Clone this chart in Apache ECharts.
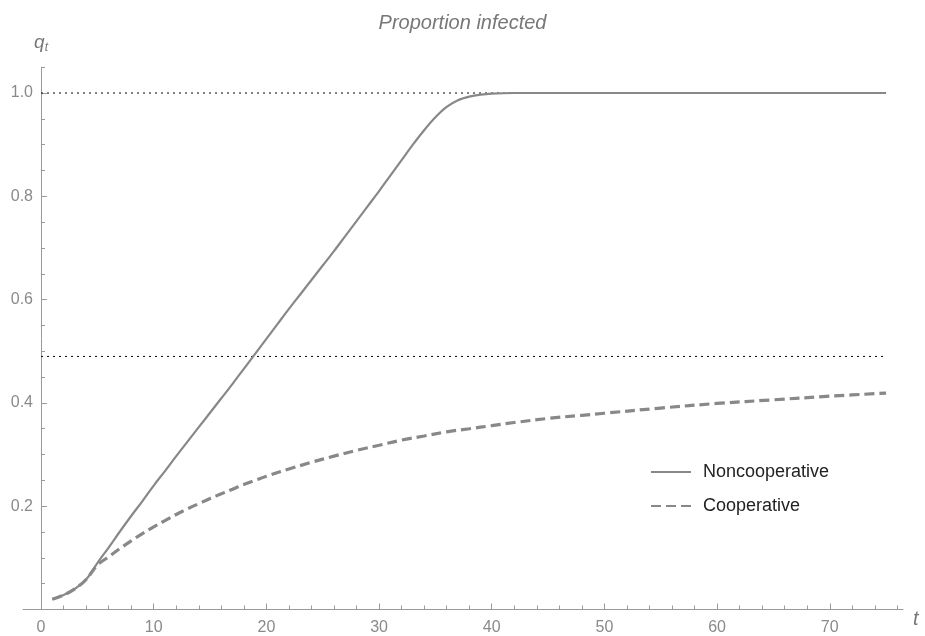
<!DOCTYPE html>
<html>
<head>
<meta charset="utf-8">
<script src="https://cdn.jsdelivr.net/npm/echarts@6/dist/echarts.min.js"></script>
<style>html,body{margin:0;padding:0;background:#fff}#c{width:925px;height:636px}</style>
</head>
<body>
<div id="c"></div>
<script>
// Noncooperative
const tNon = [1,2,3,4,5,6,7,8,9,10,11,12,13,14,15,16,17,18,19,20,21,22,23,24,25,26,27,28,29,30,31,32,33,34,35,36,37,38,39,40,42,45,50,55,60,65,70,75];
const qNon = [0.02,0.028,0.04,0.058,0.09,0.12,0.151,0.181,0.21,0.24,0.268,0.297,0.325,0.353,0.381,0.409,0.437,0.466,0.495,0.524,0.553,0.582,0.61,0.638,0.666,0.694,0.723,0.752,0.781,0.81,0.84,0.87,0.9,0.928,0.953,0.973,0.986,0.993,0.997,0.999,1.0,1.0,1.0,1.0,1.0,1.0,1.0,1.0];
// Cooperative
const tCoop = [1,2,3,4,5,6,7,8,9,10,11,12,13,14,15,16,17,18,19,20,22,24,26,28,30,32,34,36,38,40,42,45,48,50,55,60,65,70,75];
const qCoop = [0.02,0.028,0.04,0.058,0.086,0.102,0.118,0.133,0.147,0.16,0.172,0.184,0.195,0.205,0.215,0.224,0.233,0.242,0.25,0.258,0.272,0.285,0.297,0.308,0.318,0.328,0.336,0.344,0.35,0.356,0.362,0.37,0.376,0.38,0.39,0.399,0.406,0.413,0.419];
// Reference levels
const refT = [0, 75];
const refHigh = [1.0, 1.0];
const refLow = [0.49, 0.49];
// Ticks
const xMajorTicks = [0,10,20,30,40,50,60,70];
const xMinorTicks = [2,4,6,8,12,14,16,18,22,24,26,28,32,34,36,38,42,44,46,48,52,54,56,58,62,64,66,68,72,74,76];
const yMajorTicks = [0.2,0.4,0.6,0.8,1.0];
const yMinorTicks = [0.05,0.1,0.15,0.25,0.3,0.35,0.45,0.5,0.55,0.65,0.7,0.75,0.85,0.9,0.95,1.05];
const legendNames = ['Noncooperative','Cooperative'];

const pair = (ts, qs) => ts.map((t, i) => [t, qs[i]]);
const axisGray = '#9a9a9a';
const labelGray = '#8a8a8a';

const chart = echarts.init(document.getElementById('c'));
chart.setOption({
  animation: false,
  title: {
    text: 'Proportion infected', left: 'center', top: 8,
    textStyle: { fontFamily: 'Liberation Sans', fontSize: 20, fontStyle: 'italic', fontWeight: 'normal', color: '#777' }
  },
  legend: {
    orient: 'vertical', left: 645, top: 458, right: 'auto', bottom: 'auto',
    itemWidth: 40, itemHeight: 14, itemGap: 16,
    data: legendNames,
    itemStyle: { opacity: 0 },
    textStyle: { fontFamily: 'Liberation Sans', fontSize: 18, color: '#222', padding: [0, 0, 0, 7] }
  },
  grid: { left: 23, right: 22, top: 67.2, bottom: 26.5, containLabel: false, outerBoundsMode: 'none' },
  xAxis: [{
    type: 'value', min: -1.6, max: 76.5,
    splitLine: { show: false },
    axisLine: { lineStyle: { color: axisGray, width: 1 }, onZero: true },
    axisTick: { inside: true, length: 6, customValues: xMajorTicks, lineStyle: { color: axisGray } },
    axisLabel: { customValues: xMajorTicks, margin: 10, fontFamily: 'Liberation Sans', fontSize: 16, color: labelGray },
    name: 't', nameLocation: 'end', nameGap: 10,
    nameTextStyle: { fontFamily: 'Liberation Sans', fontSize: 20, fontStyle: 'italic', color: '#777', verticalAlign: 'top', padding: [0,0,0,0] }
  }, {
    type: 'value', min: -1.6, max: 76.5, position: 'bottom',
    splitLine: { show: false },
    axisLine: { show: false },
    axisTick: { inside: true, length: 4, customValues: xMinorTicks, lineStyle: { color: axisGray } },
    axisLabel: { show: false }
  }],
  yAxis: [{
    type: 'value', min: 0, max: 1.05,
    splitLine: { show: false },
    axisLine: { lineStyle: { color: axisGray, width: 1 }, onZero: true, onZeroAxisIndex: 0 },
    axisTick: { inside: true, length: 6, customValues: yMajorTicks, lineStyle: { color: axisGray } },
    axisLabel: { customValues: yMajorTicks, margin: -10, formatter: v => v.toFixed(1), fontFamily: 'Liberation Sans', fontSize: 16, color: labelGray },
    name: '{q|q}{s|t}', nameLocation: 'end', nameGap: 14,
    nameTextStyle: {
      rich: {
        q: { fontFamily: 'Liberation Sans', fontSize: 19, fontStyle: 'italic', color: '#777' },
        s: { fontFamily: 'Liberation Sans', fontSize: 12, fontStyle: 'italic', color: '#777', padding: [8,0,0,0] }
      }
    }
  }, {
    type: 'value', min: 0, max: 1.05, position: 'left',
    splitLine: { show: false },
    axisLine: { show: false, onZero: true, onZeroAxisIndex: 0 },
    axisTick: { inside: true, length: 4, customValues: yMinorTicks, lineStyle: { color: axisGray } },
    axisLabel: { show: false }
  }],
  series: [
    {
      name: 'ref1', type: 'line', data: pair(refT, refHigh), symbol: 'none', silent: true,
      lineStyle: { color: '#000', width: 1, type: [2, 4] }, z: 1
    },
    {
      name: 'ref2', type: 'line', data: pair(refT, refLow), symbol: 'none', silent: true,
      lineStyle: { color: '#000', width: 1, type: [2, 4] }, z: 1
    },
    {
      name: legendNames[0], type: 'line', data: pair(tNon, qNon), symbol: 'none', smooth: 0.35,
      color: '#888', lineStyle: { color: '#888', width: 2.2 }, z: 3
    },
    {
      name: legendNames[1], type: 'line', data: pair(tCoop, qCoop), symbol: 'none', smooth: 0.35,
      color: '#888', lineStyle: { color: '#888', width: 3.2, type: [10, 5] }, z: 3
    }
  ]
});
</script>
</body>
</html>
